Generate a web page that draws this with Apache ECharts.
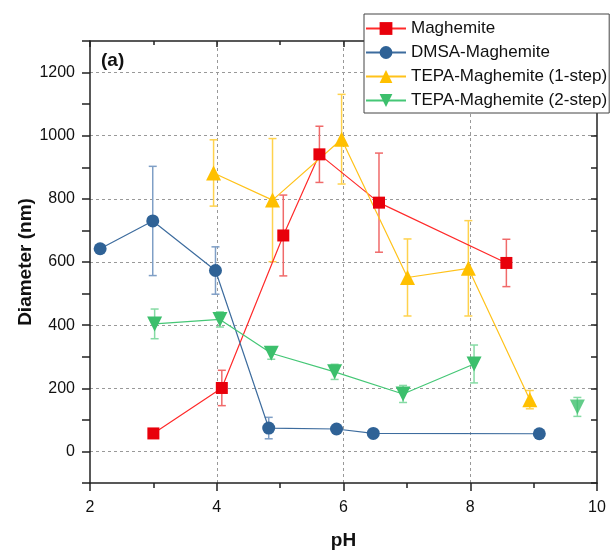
<!DOCTYPE html>
<html>
<head>
<meta charset="utf-8">
<script src="https://cdn.jsdelivr.net/npm/echarts@6/dist/echarts.min.js"></script>
<style>
  html, body { margin: 0; padding: 0; background: #fff; }
  #chart { width: 614px; height: 553px; }
</style>
</head>
<body>
<div id="chart"></div>
<script>
// data
const seriesNames = ['Maghemite', 'DMSA-Maghemite', 'TEPA-Maghemite (1-step)', 'TEPA-Maghemite (2-step)'];

const magX = [3.0, 4.08, 5.05, 5.62, 6.56, 8.57];
const magY = [57, 201, 684, 941, 788, 597];
const magErr = [0, 56, 128, 89, 157, 75];

const dmsaX = [2.16, 2.99, 3.98, 4.82, 5.89, 6.47, 9.09];
const dmsaY = [642, 730, 573, 74, 71, 57, 56];
const dmsaErr = [0, 173, 75, 34, 0, 0, 0];

const tepa1X = [3.95, 4.88, 5.97, 7.01, 7.97, 8.94];
const tepa1Y = [882, 796, 989, 551, 580, 164];
const tepa1Err = [105, 195, 142, 122, 151, 29];

const tepa2X = [3.02, 4.05, 4.86, 5.86, 6.94, 8.06];
const tepa2Y = [404, 418, 311, 252, 182, 277];
const tepa2Err = [47, 24, 19, 24, 27, 60];

// lone point at pH 9.7, not joined to the line
const tepa2bX = [9.69];
const tepa2bY = [141];
const tepa2bErr = [30];

const xGrid = [4, 6, 8];
const yGrid = [0, 200, 400, 600, 800, 1000, 1200];

const chart = echarts.init(document.getElementById('chart'));
const font = 'Liberation Sans, Arial, sans-serif';

function pts(xs, ys) {
  return xs.map((x, i) => [x, ys[i]]);
}

function errs(xs, ys, es) {
  const out = [];
  xs.forEach((x, i) => {
    if (es[i] > 0) out.push([x, ys[i] - es[i], ys[i] + es[i]]);
  });
  return out;
}

function errSeries(data, color) {
  return {
    type: 'custom',
    z: 1,
    silent: true,
    data: data,
    renderItem: (params, api) => {
      const lo = api.coord([api.value(0), api.value(1)]);
      const hi = api.coord([api.value(0), api.value(2)]);
      const w = 4;
      const style = { stroke: color, lineWidth: 1.5 };
      return {
        type: 'group',
        children: [
          { type: 'line', shape: { x1: lo[0], y1: lo[1], x2: hi[0], y2: hi[1] }, style: style },
          { type: 'line', shape: { x1: lo[0] - w, y1: lo[1], x2: lo[0] + w, y2: lo[1] }, style: style },
          { type: 'line', shape: { x1: hi[0] - w, y1: hi[1], x2: hi[0] + w, y2: hi[1] }, style: style }
        ]
      };
    }
  };
}

function lineSeries(name, data, lineColor, markColor, symbol, size, rotate) {
  return {
    name: name,
    type: 'line',
    z: 3,
    data: data,
    symbol: symbol,
    symbolSize: size,
    symbolRotate: rotate || 0,
    lineStyle: { color: lineColor, width: 1.2 },
    itemStyle: { color: markColor },
    emphasis: { disabled: true }
  };
}

const gridLine = { color: '#999', type: [3, 3], width: 1 };
const axisDark = { color: '#222', width: 1.5 };

const option = {
  animation: false,
  backgroundColor: '#fff',
  grid: { left: 90, right: 17, top: 41, bottom: 70, outerBoundsMode: 'none' },
  legend: {
    data: seriesNames,
    orient: 'vertical',
    left: 364,
    top: 14,
    z: 100,
    backgroundColor: '#fff',
    borderColor: '#444',
    borderWidth: 1,
    padding: [6, 2, 4, 1],
    itemWidth: 40,
    itemHeight: 16,
    itemGap: 7,
    textStyle: { fontFamily: font, fontSize: 17, lineHeight: 16, color: '#111' }
  },
  graphic: [{
    type: 'text',
    left: 101,
    top: 51,
    style: { text: '(a)', font: 'bold 19px ' + font, fill: '#111' }
  }],
  xAxis: [{
    type: 'value',
    min: 2,
    max: 10,
    interval: 2,
    name: 'pH',
    nameLocation: 'middle',
    nameGap: 48,
    nameMoveOverlap: false,
    nameTextStyle: { fontFamily: font, fontSize: 19, fontWeight: 'bold', color: '#111' },
    axisLine: { onZero: false, lineStyle: axisDark },
    axisTick: { show: true, inside: false, length: 8, lineStyle: axisDark },
    minorTick: { show: true, splitNumber: 2, length: 5, lineStyle: axisDark },
    axisLabel: { fontFamily: font, fontSize: 16, color: '#111', margin: 17 },
    splitLine: { show: false }
  }, {
    type: 'value',
    position: 'top',
    min: 2,
    max: 10,
    interval: 2,
    axisLine: { show: true, onZero: false, lineStyle: axisDark },
    axisTick: { show: true, inside: true, length: 6, lineStyle: axisDark },
    minorTick: { show: true, splitNumber: 2, length: 4, lineStyle: axisDark },
    axisLabel: { show: false },
    splitLine: { show: false }
  }],
  yAxis: [{
    type: 'value',
    min: -100,
    max: 1300,
    interval: 100,
    name: 'Diameter (nm)',
    nameLocation: 'middle',
    nameGap: 55,
    nameMoveOverlap: false,
    nameRotate: 90,
    nameTextStyle: { fontFamily: font, fontSize: 19, fontWeight: 'bold', color: '#111' },
    axisLine: { show: true, onZero: false, lineStyle: axisDark },
    axisTick: { show: true, inside: false, length: 8, lineStyle: axisDark },
    axisLabel: {
      fontFamily: font, fontSize: 16, color: '#111', margin: 15,
      formatter: v => (v >= 0 && v <= 1200 && v % 200 === 0) ? String(v) : ''
    },
    splitLine: { show: false }
  }, {
    type: 'value',
    position: 'right',
    min: -100,
    max: 1300,
    interval: 100,
    axisLine: { show: true, onZero: false, lineStyle: axisDark },
    axisTick: { show: true, inside: true, length: 6, lineStyle: axisDark },
    axisLabel: { show: false },
    splitLine: { show: false }
  }],
  series: [
    {
      // dashed grid lines at the major ticks
      type: 'line',
      data: [],
      silent: true,
      z: 0,
      markLine: {
        silent: true,
        symbol: 'none',
        z: 0,
        label: { show: false },
        lineStyle: gridLine,
        data: xGrid.map(v => ({ xAxis: v })).concat(yGrid.map(v => ({ yAxis: v })))
      }
    },
    errSeries(errs(magX, magY, magErr), '#f06a6a'),
    errSeries(errs(dmsaX, dmsaY, dmsaErr), '#7f9fc6'),
    errSeries(errs(tepa1X, tepa1Y, tepa1Err), '#ffd24d'),
    errSeries(errs(tepa2X, tepa2Y, tepa2Err), '#86dba4'),
    errSeries(errs(tepa2bX, tepa2bY, tepa2bErr), '#86dba4'),
    lineSeries(seriesNames[0], pts(magX, magY), '#ff2a2a', '#e8000b', 'rect', 12),
    lineSeries(seriesNames[1], pts(dmsaX, dmsaY), '#3d6c9e', '#2f6296', 'circle', 13),
    lineSeries(seriesNames[2], pts(tepa1X, tepa1Y), '#ffc21a', '#ffc000', 'triangle', 15),
    lineSeries(seriesNames[3], pts(tepa2X, tepa2Y), '#45c776', '#3cbf6c', 'triangle', 15, 180),
    {
      name: 'TEPA-Maghemite (2-step) pH 9.7',
      type: 'scatter',
      z: 3,
      data: pts(tepa2bX, tepa2bY),
      symbol: 'triangle',
      symbolSize: 15,
      symbolRotate: 180,
      itemStyle: { color: '#3cbf6c' }
    }
  ]
};

chart.setOption(option);
</script>
</body>
</html>
